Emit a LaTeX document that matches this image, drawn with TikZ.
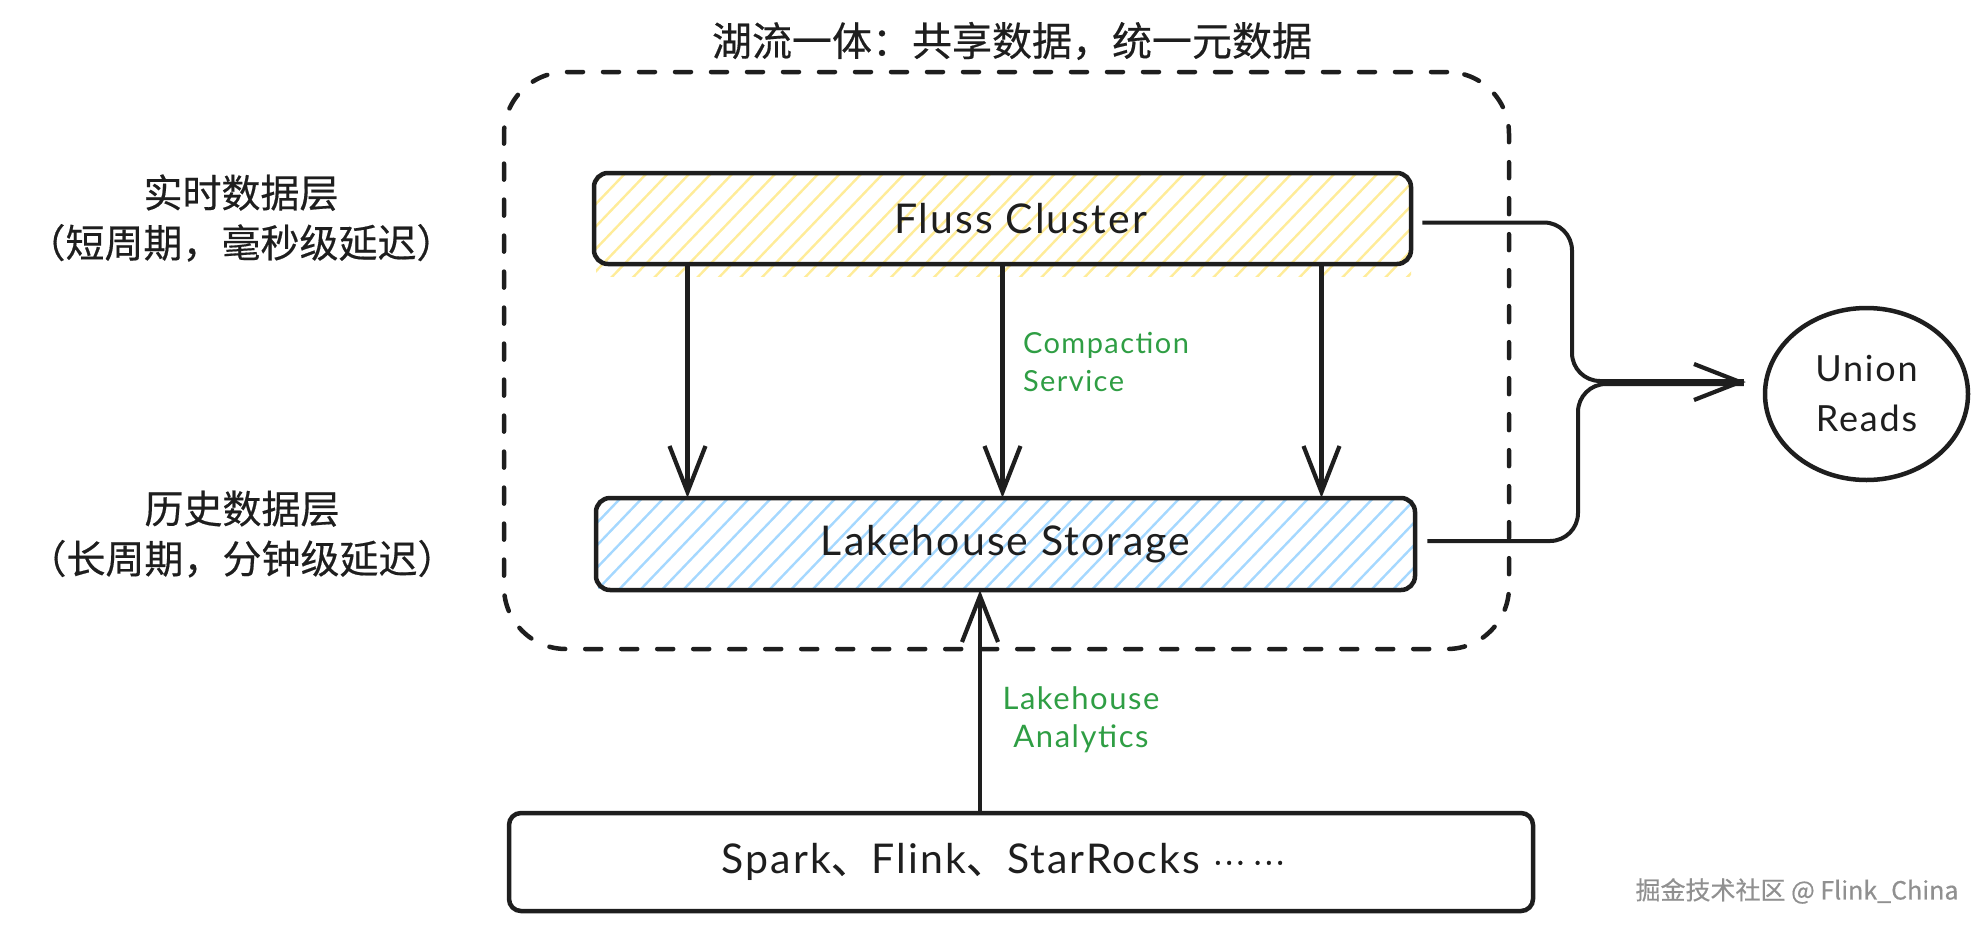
\documentclass[tikz,border=0pt]{standalone}
\usepackage{fontspec}
\setmainfont{Lato}[LetterSpace=5]
\newfontfamily\cjk{Noto Sans CJK SC}[FakeBold=0.4]
\usetikzlibrary{arrows.meta,positioning,shapes.geometric}
\definecolor{inkblack}{HTML}{1E1E1E}
\definecolor{hatchyellow}{HTML}{FFEC99}
\definecolor{hatchblue}{HTML}{A5D8FF}
\definecolor{labelgreen}{HTML}{2F9E44}
\definecolor{markgray}{HTML}{909090}
\tikzset{
  layerbox/.style={draw=inkblack,line width=4.5pt,rounded corners=14pt,align=center,text=inkblack,font=\fontsize{41}{44}\selectfont},
  flow/.style={draw=inkblack,line width=4.2pt,shorten >=-2pt,-{Straight Barb[length=46pt,width=36pt]}},
  merge/.style={draw=inkblack,line width=4pt,rounded corners=28pt},
  sidetext/.style={align=center,font=\cjk\fontsize{39}{50}\selectfont,text=inkblack},
  greentext/.style={align=center,text=labelgreen,font=\fontsize{29}{38}\selectfont},
}
\begin{document}
\begin{tikzpicture}[x=1pt,y=-1pt,>=stealth]
  \useasboundingbox (0,0) rectangle (1987,930);
  % hatching
  \begin{scope}
    \clip (596,175) rectangle (1411,276);
    \foreach \i in {0,1,...,50}
      \draw[hatchyellow,line width=2.4pt] (480+\i*21.5,280) -- ++(115,-120);
  \end{scope}
  \begin{scope}
    \clip (598,500) rectangle (1413,588);
    \foreach \i in {0,1,...,50}
      \draw[hatchblue,line width=2.4pt] (480+\i*21.5,600) -- ++(115,-120);
  \end{scope}
  % boxes
  \node[layerbox,minimum width=817pt,minimum height=91pt] (fluss) at (1002.5,218.5) {\hspace*{36pt}Fluss Cluster};
  \node[layerbox,minimum width=819pt,minimum height=92pt] (lake) at (1005.5,544) {Lakehouse Storage};
  \node[layerbox,rounded corners=12pt,minimum width=1024pt,minimum height=98pt] (engines) at (1021,862)
    {\raisebox{-3pt}{Spark{\cjk 、}Flink{\cjk 、}StarRocks \raisebox{9pt}{\cjk\fontsize{30}{30}\selectfont …\hspace{8pt}…}}\hspace*{36pt}};
  \node[draw=inkblack,line width=4.5pt,ellipse,minimum width=203pt,minimum height=172pt,inner sep=0pt,align=center,
    text=inkblack,font=\fontsize{36}{50}\selectfont] (union) at (1866.5,394) {Union\\Reads};
  % dashed frame
  \node[draw=inkblack,line width=4.5pt,line cap=round,dash pattern=on 16pt off 20pt,rounded corners=62pt,
    minimum width=1005pt,minimum height=577pt] (frame) at (1006.5,360.5) {};
  % labels
  \node[font=\cjk\fontsize{40}{44}\selectfont,text=inkblack] (title) at (1012,41) {湖流一体：共享数据，统一元数据};
  \node[sidetext] (realtime) at (241,218) {实时数据层\\（短周期，毫秒级延迟）};
  \node[sidetext] (history) at (242,534) {历史数据层\\（长周期，分钟级延迟）};
  \node[greentext,align=left] (compact) at (1106,362) {Compaction\\Service};
  \node[greentext,font=\fontsize{31}{38}\selectfont] (analytics) at (1081,720) {Lakehouse\\Analytics};
  \node[font=\cjk\fontsize{25}{30}\selectfont,text=markgray] (mark) at (1797,891) {掘金技术社区 @ Flink\_China};
  % arrows
  \draw[flow] ([xshift=-315pt]fluss.south) -- ([xshift=-318pt]lake.north);
  \draw[flow] (fluss.south) -- (lake.north -| fluss.south);
  \draw[flow] ([xshift=319pt]fluss.south) -- ([xshift=316pt]lake.north);
  \draw[flow] (engines.north -| 980,0) -- (lake.south -| 980,0);
  \coordinate (tip) at ([xshift=-19pt,yshift=12pt]union.west);
  \coordinate (upbend) at (1572,381);
  \coordinate (lowbend) at (1578,384);
  \draw[merge] ([xshift=9pt,yshift=-4pt]fluss.east) -| (upbend) -- (upbend -| tip);
  \draw[merge] ([xshift=10pt,yshift=3pt]lake.east) -| (lowbend) -- (lowbend -| tip);
  \draw[flow] ([xshift=-60pt]tip) -- (tip);
\end{tikzpicture}
\end{document}
